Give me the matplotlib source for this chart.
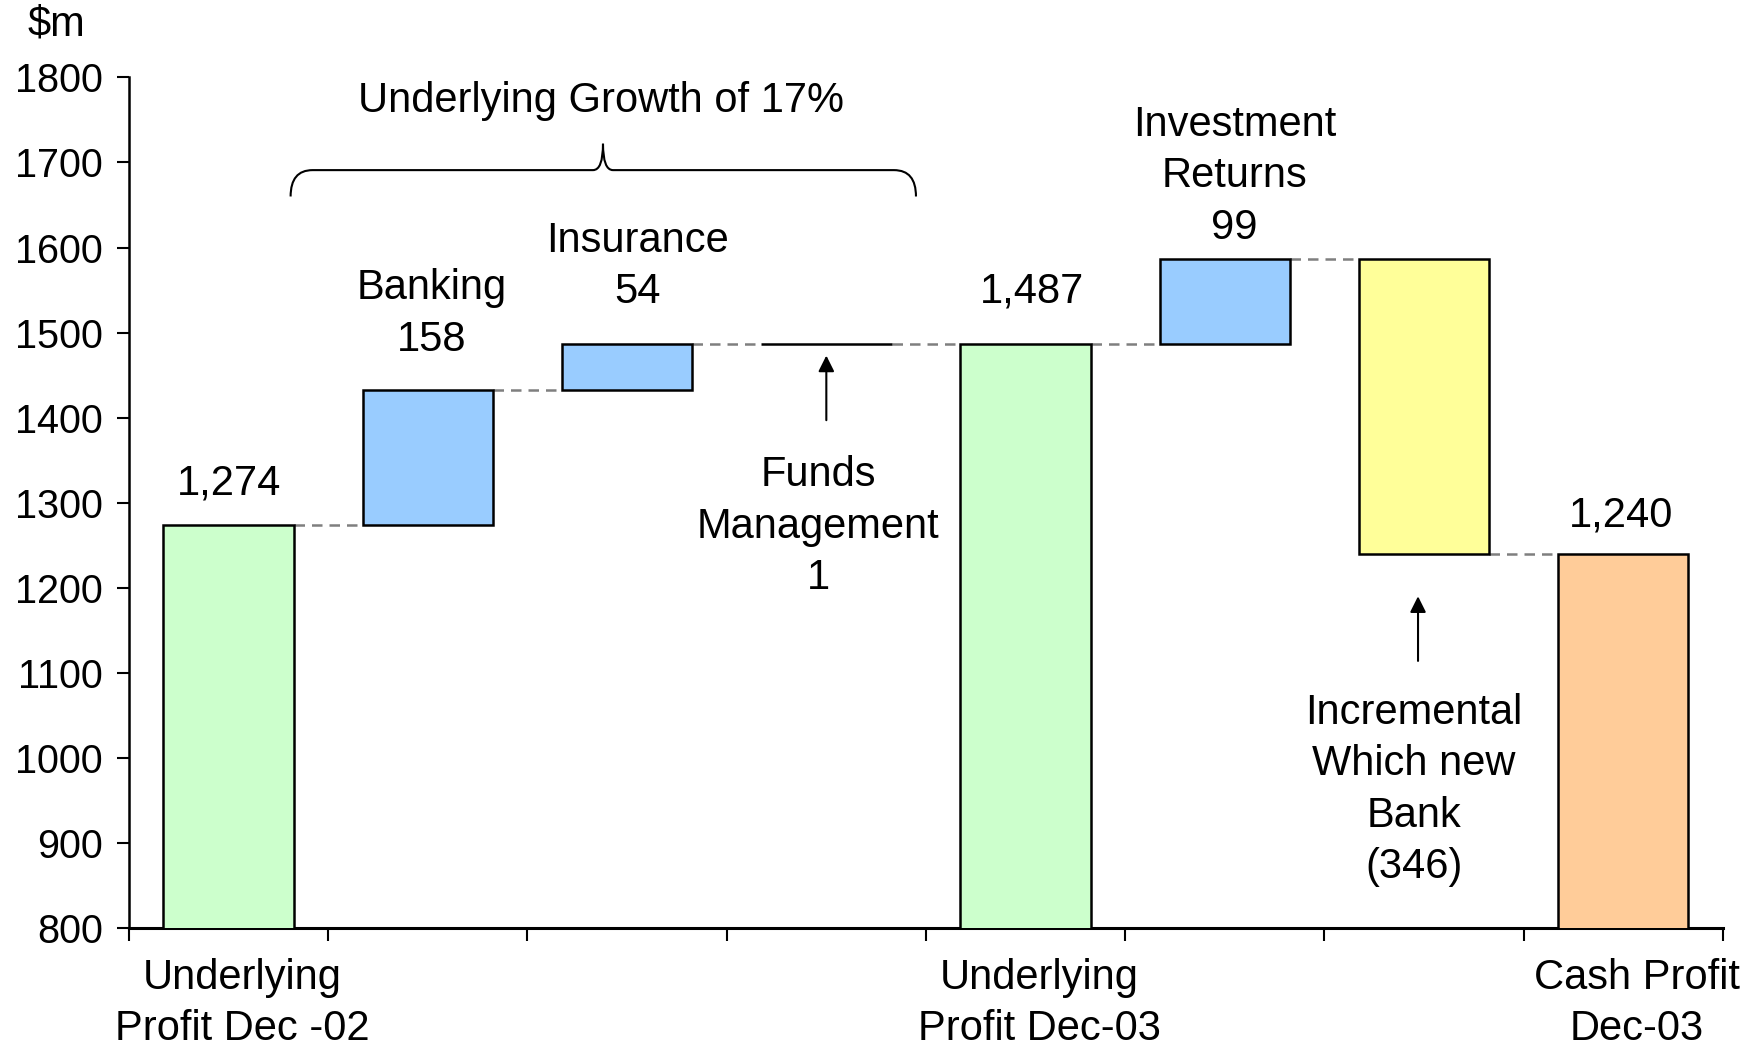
import matplotlib
matplotlib.use('Agg')
import matplotlib.pyplot as plt
import numpy as np
from matplotlib.path import Path
from matplotlib.patches import PathPatch

plt.rcParams['font.family'] = ['Liberation Sans', 'DejaVu Sans']
plt.rcParams['font.size'] = 30

# waterfall data ($m)
steps = ['Underlying Profit Dec -02', 'Banking', 'Insurance', 'Funds Management',
         'Underlying Profit Dec-03', 'Investment Returns', 'Incremental Which new Bank',
         'Cash Profit Dec-03']
values = [1274, 158, 54, 1, 1487, 99, -346, 1240]
is_total = [True, False, False, False, True, False, False, True]
colors = ['#CCFFCC', '#99CCFF', '#99CCFF', '#99CCFF', '#CCFFCC', '#99CCFF', '#FFFF99', '#FFCC99']

axis_labels = ['Underlying\nProfit Dec -02', 'Underlying\nProfit Dec-03', 'Cash Profit\nDec-03']
axis_label_idx = [0, 4, 7]

yticks = list(range(800, 1801, 100))

# build bar bottoms / heights and running level
bottoms, heights, levels = [], [], []
cum = 0
for v, tot in zip(values, is_total):
    if tot:
        bottoms.append(0)
        heights.append(v)
        cum = v
    else:
        bottoms.append(cum if v > 0 else cum + v)
        heights.append(abs(v))
        cum += v
    levels.append(cum)

x = np.arange(len(values))
w = 0.655

fig = plt.figure(figsize=(17.58, 10.46), dpi=100)
ax = fig.add_axes([0.0734, 0.1128, 0.9066, 0.8132])

ax.bar(x, heights, bottom=bottoms, width=w, color=colors,
       edgecolor='black', linewidth=1.8, zorder=3)

# dashed connectors between bars
for i in range(len(values) - 1):
    ax.plot([x[i] + w / 2, x[i + 1] - w / 2], [levels[i], levels[i]],
            color='#7f7f7f', lw=1.8, linestyle=(0, (4.2, 2.8)), zorder=2)

ax.set_xlim(-0.5, 7.5)
ax.set_ylim(800, 1800)
ax.set_yticks(yticks)
ax.set_xticks(np.arange(-0.5, 8, 1))
ax.set_xticklabels([])
ax.tick_params(axis='y', direction='out', length=9, width=1.5, pad=10, labelsize=28.5)
ax.tick_params(axis='x', direction='out', length=9, width=1.5)
for s in ['top', 'right']:
    ax.spines[s].set_visible(False)
ax.spines['left'].set_linewidth(1.8)
ax.spines['bottom'].set_linewidth(2.2)

ls = 1.37
# category labels under the axis
for lab, i in zip(axis_labels, axis_label_idx):
    ax.text(i + 0.07, 711, lab, ha='center', va='center', linespacing=ls, clip_on=False)

# value / name annotations
def fmt(v):
    return '({:,})'.format(-v) if v < 0 else '{:,}'.format(v)

ax.text(0.0, 1322, fmt(values[0]), ha='center', va='center')
ax.text(1.02, 1522, 'Banking\n' + fmt(values[1]), ha='center', va='center', linespacing=ls)
ax.text(2.05, 1578, 'Insurance\n' + fmt(values[2]), ha='center', va='center', linespacing=ls)
ax.text(2.96, 1272, 'Funds\nManagement\n' + fmt(values[3]), ha='center', va='center', linespacing=ls)
ax.text(4.03, 1548, fmt(values[4]), ha='center', va='center')
ax.text(5.05, 1684, 'Investment\nReturns\n' + fmt(values[5]), ha='center', va='center', linespacing=ls)
ax.text(5.95, 962, 'Incremental\nWhich new\nBank\n' + fmt(values[6]), ha='center', va='center', linespacing=ls)
ax.text(6.99, 1285, fmt(values[7]), ha='center', va='center')

ax.text(1.87, 1772, 'Underlying Growth of 17%', ha='center', va='center')
ax.text(-0.866, 1862, '$m', ha='center', va='center', clip_on=False)

# arrows
arrow = dict(arrowstyle='-|>', color='black', lw=1.5, mutation_scale=24, shrinkA=0, shrinkB=0)
ax.annotate('', xy=(3.0, 1473), xytext=(3.0, 1397), arrowprops=arrow)
ax.annotate('', xy=(5.97, 1190), xytext=(5.97, 1114), arrowprops=arrow)

# curly brace over the growth steps
xl, xm, xr = 0.311, 1.879, 3.45
yb, yh, yt = 1660, 1691, 1722
verts = [(xl, yb), (xl, yh), (xl + 0.11, yh),
         (xm - 0.05, yh), (xm, yh), (xm, yt),
         (xm, yh), (xm + 0.05, yh),
         (xr - 0.11, yh), (xr, yh), (xr, yb)]
codes = [Path.MOVETO, Path.CURVE3, Path.CURVE3,
         Path.LINETO, Path.CURVE3, Path.CURVE3,
         Path.CURVE3, Path.CURVE3,
         Path.LINETO, Path.CURVE3, Path.CURVE3]
ax.add_patch(PathPatch(Path(verts, codes), fill=False, lw=1.5, edgecolor='black', clip_on=False))

fig.savefig('out.png', dpi=100)
